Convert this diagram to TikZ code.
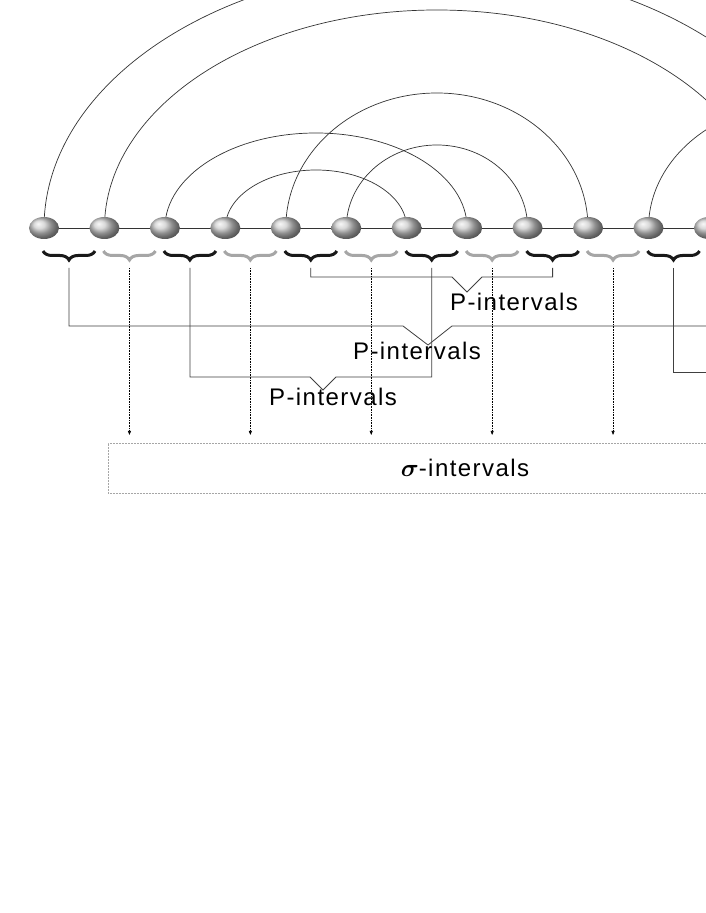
\documentclass[tikz,border=0pt]{standalone}
\usepackage{amsmath}
\usepackage{bm}
\usepackage{fontspec}
\setmainfont{Liberation Sans}[LetterSpace=6]
\usetikzlibrary{shapes.geometric,decorations.pathreplacing,arrows.meta,backgrounds}
\tikzset{
  site/.style={ellipse, minimum width=30pt, minimum height=22pt, inner sep=0pt, ball color=gray!40!white},
  arcline/.style={draw=black!80, line width=0.7pt},
  pbrace/.style={decorate, decoration={brace, amplitude=9pt}, line width=3pt, black!90},
  sbrace/.style={decorate, decoration={brace, amplitude=9pt}, line width=3pt, gray!70},
  bracket/.style={draw=black!75, line width=0.8pt},
  dotarrow/.style={densely dotted, line width=0.6pt, -{Triangle[length=4pt,width=3pt]}},
  lbl/.style={font=\fontsize{24}{28}\selectfont, inner sep=1pt}
}
\begin{document}
\begin{tikzpicture}[x=1pt,y=1pt]
    \useasboundingbox (0,0) rectangle (706,913);
    \clip (0,0) rectangle (706,913);

    % Sites on the chain
    \foreach \i in {1,...,16}
        \node (n\i) [site] at ({44+(\i-1)*60.45},685) {};

    % Chain and arcs
    \begin{pgfonlayer}{background}
        \fill[white] (0,0) rectangle (706,913);
        \draw [arcline] (n1.center) -- (n16.center);
        \draw [arcline] (n1.center) arc[start angle=180, end angle=0, x radius=393.0, y radius=262];
        \draw [arcline] (n2.center) arc[start angle=180, end angle=0, x radius=332.5, y radius=218];
        \draw [arcline] (n3.center) arc[start angle=180, end angle=0, x radius=151.1, y radius=95];
        \draw [arcline] (n4.center) arc[start angle=180, end angle=0, x radius=90.7, y radius=58];
        \draw [arcline] (n5.center) arc[start angle=180, end angle=0, x radius=151.1, y radius=135];
        \draw [arcline] (n6.center) arc[start angle=180, end angle=0, x radius=90.7, y radius=83];
        \draw [arcline] (n11.center) arc[start angle=180, end angle=0, x radius=151.1, y radius=125];
    \end{pgfonlayer}

    % Braces
    \foreach \i in {1,...,12} {
        \pgfmathsetmacro{\bx}{69+(\i-1)*60.45}
        \coordinate (b\i) at (\bx,645);
        \coordinate (t\i) at (\bx,478);
        \ifodd\i
            \draw [pbrace] (\bx+26,662) -- (\bx-26,662);
        \else
            \draw [sbrace] (\bx+26,662) -- (\bx-26,662);
        \fi
    }

    % P-interval brackets
    \draw [bracket] (b5) |- (452,636) -- (467,621) -- (482,636) -| (b9);
    \draw [bracket] (b1) |- (403,587) -- (428,568) -- (452,587) -- (720,587);
    \draw [bracket] (b3) |- (310,536) -- (323,523) -- (336,536) -| (b7);
    \draw [bracket] (b11) |- (720,541);
    \node (p1) [lbl] at (514,611) {P-intervals};
    \node (p2) [lbl] at (417,562) {P-intervals};
    \node (p3) [lbl] at (333,516) {P-intervals};

    % sigma-intervals
    \node (sig) [draw=gray!70, densely dotted, line width=0.5pt, minimum width=612pt, minimum height=50pt, anchor=west] at (108,445) {};
    \node (sl) [lbl] at (465,445) {$\boldsymbol{\sigma}$-intervals};
    \foreach \i in {2,4,...,10}
        \draw [dotarrow] (b\i) -- (t\i);
\end{tikzpicture}
\end{document}
